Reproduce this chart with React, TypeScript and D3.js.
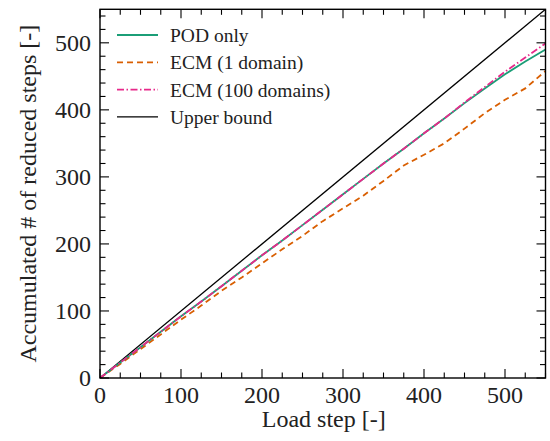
import React from "react";
import * as d3 from "d3";

const steps = [0, 25, 50, 75, 100, 125, 150, 175, 200, 225, 250, 275, 300, 325, 350, 375, 400, 425, 450, 475, 500, 525, 550];
const podOnly = [0, 23, 46, 69, 92, 114, 137, 160, 183, 205, 228, 251, 274, 297, 320, 342, 365, 387, 410, 432, 453, 472, 490];
const ecm1 = [0, 21, 43, 65, 87, 108, 130, 150, 171, 192, 212, 234, 253, 272, 294, 317, 333, 350, 372, 395, 415, 432, 458];
const ecm100 = [0, 23, 46, 69, 92, 114, 137, 160, 183, 205, 228, 251, 274, 297, 320, 342, 365, 387, 411, 434, 457, 478, 499];
const upper = [0, 550];
const upperX = [0, 550];

const xTicks = [0, 100, 200, 300, 400, 500];
const yTicks = [0, 100, 200, 300, 400, 500];

const seriesNames = ["POD only", "ECM (1 domain)", "ECM (100 domains)", "Upper bound"];
const seriesColors = ["#1b9e77", "#d95f02", "#e7298a", "#000000"];
const seriesDash = ["", "6,4", "7,2.5,1.5,2.5", ""];

export default function App() {
  const W = 550, H = 441;
  const L = 100, R = 545.5, T = 9.3, B = 378;
  const x = d3.scaleLinear().domain([0, 550]).range([L, R]);
  const y = d3.scaleLinear().domain([0, 550]).range([B, T]);
  const line = d3.line<[number, number]>().x(d => x(d[0])).y(d => y(d[1]));

  const data: [number, number][][] = [
    steps.map((s, i) => [s, podOnly[i]]),
    steps.map((s, i) => [s, ecm1[i]]),
    steps.map((s, i) => [s, ecm100[i]]),
    upperX.map((s, i) => [s, upper[i]]),
  ];

  const xMinor = d3.range(0, 551, 25).filter(v => v % 100 !== 0);
  const yMinor = d3.range(0, 551, 20).filter(v => v % 100 !== 0);
  const maj = 9, mn = 5.5;
  const font = "Liberation Serif, Tinos, DejaVu Serif, serif";

  return (
    <svg width={W} height={H} style={{ position: "absolute", left: 0, top: 0 }}>
      <rect x={0} y={0} width={W} height={H} fill="#fff" />
      <defs>
        <clipPath id="clip">
          <rect x={L} y={T} width={R - L} height={B - T} />
        </clipPath>
      </defs>
      <g clipPath="url(#clip)">
        {[3, 1, 0, 2].map(i => (
          <path key={i} d={line(data[i]) || ""} fill="none" stroke={seriesColors[i]}
            strokeWidth={i === 3 ? 1.3 : 1.8} strokeDasharray={seriesDash[i]} />
        ))}
      </g>
      <g stroke="#000" strokeWidth={1.1}>
        {xTicks.map(v => (
          <g key={"xt" + v}>
            <line x1={x(v)} x2={x(v)} y1={B} y2={B - maj} />
            <line x1={x(v)} x2={x(v)} y1={T} y2={T + maj} />
          </g>
        ))}
        {xMinor.map(v => (
          <g key={"xm" + v}>
            <line x1={x(v)} x2={x(v)} y1={B} y2={B - mn} />
            <line x1={x(v)} x2={x(v)} y1={T} y2={T + mn} />
          </g>
        ))}
        {yTicks.map(v => (
          <g key={"yt" + v}>
            <line x1={L} x2={L + maj} y1={y(v)} y2={y(v)} />
            <line x1={R} x2={R - maj} y1={y(v)} y2={y(v)} />
          </g>
        ))}
        {yMinor.map(v => (
          <g key={"ym" + v}>
            <line x1={L} x2={L + mn} y1={y(v)} y2={y(v)} />
            <line x1={R} x2={R - mn} y1={y(v)} y2={y(v)} />
          </g>
        ))}
      </g>
      <rect x={L} y={T} width={R - L} height={B - T} fill="none" stroke="#000" strokeWidth={1.4} />
      <g style={{ fontFamily: font }} fontSize={24} fill="#222">
        {xTicks.map(v => (
          <text key={"xl" + v} x={x(v)} y={B + 25} textAnchor="middle">{v}</text>
        ))}
        {yTicks.map(v => (
          <text key={"yl" + v} x={91} y={y(v) + 8} textAnchor="end">{v}</text>
        ))}
        <text x={(L + R) / 2 + 1} y={427} textAnchor="middle">Load step [-]</text>
        <text transform={`translate(36,${(T + B) / 2}) rotate(-90)`} textAnchor="middle">Accumulated # of reduced steps [-]</text>
      </g>
      <g style={{ fontFamily: font }} fontSize={19.5} fill="#222">
        {seriesNames.map((n, i) => {
          const cy = 35 + i * 27.3;
          return (
            <g key={n}>
              <line x1={117} x2={158} y1={cy} y2={cy} stroke={seriesColors[i]}
                strokeWidth={i === 3 ? 1.3 : 1.8} strokeDasharray={seriesDash[i]} />
              <text x={170} y={cy + 7}>{n}</text>
            </g>
          );
        })}
      </g>
    </svg>
  );
}
